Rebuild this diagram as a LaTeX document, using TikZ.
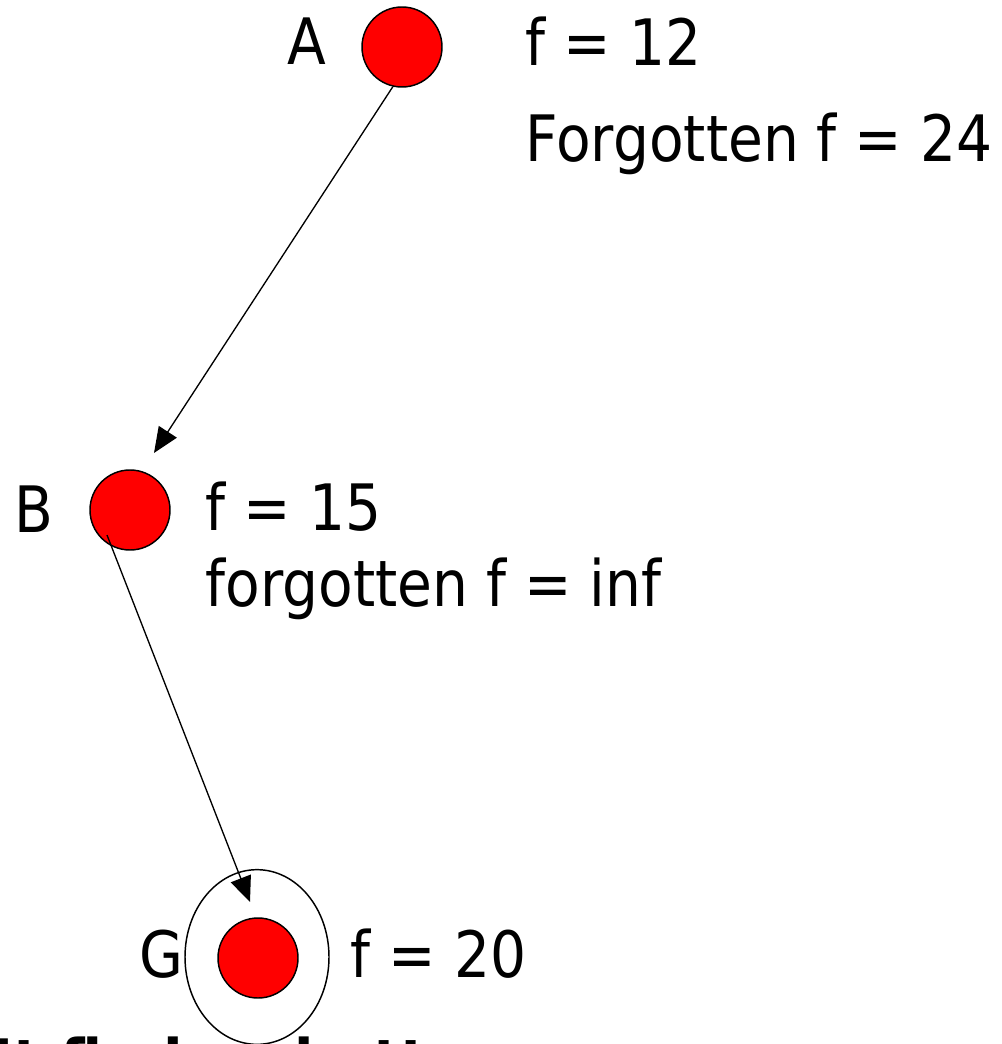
\documentclass[tikz,border=0pt]{standalone}
\usepackage{fontspec}
\newfontfamily\slidefont[FakeStretch=0.885]{DejaVu Sans}
\usetikzlibrary{calc, arrows.meta}

\begin{document}
\begin{tikzpicture}[x=0.75pt, y=-0.75pt, line width=1.1pt,
  state/.style={circle, draw=black, fill=red, minimum size=60pt, inner sep=0pt},
  lbl/.style={anchor=base west, inner sep=0pt, font=\slidefont\fontsize{48}{58}\selectfont},
  edge/.style={line width=1pt, -{Triangle[length=19pt, width=16pt]}}]
  \useasboundingbox (0,0) rectangle (1001,1044);

  % 结点
  \node[state] (A) at (402,47) {};
  \node[state] (B) at (130,510) {};
  \node[state] (G) at (258,958) {};
  \draw ($(G)+(-1,-1)$) ellipse (54pt and 65.5pt);

  % 箭头
  \coordinate (ABtip) at ($(B)+(24,-57)$);
  \draw[edge] (A.257) -- (ABtip);
  \coordinate (BGtail) at ($(B)+(-23,25)$);
  \coordinate (BGtip) at ($(G)+(-8,-56)$);
  \draw[edge] (BGtail) -- (BGtip);

  % 文字
  \node[lbl] (Aname) at (287,65) {A};
  \node[lbl] (Af) at (525,66) {f = 12};
  \node[lbl] (Aforgot) at (525,162) {Forgotten f = 24};
  \node[lbl] (Bname) at (14,532) {B};
  \node[lbl] (Bf) at (205,530) {f = 15};
  \node[lbl] (Bforgot) at (205,606) {forgotten f = inf};
  \node[lbl] (Gname) at (139,977) {G};
  \node[lbl] (Gf) at (350,977) {f = 20};
  \node[lbl, font=\slidefont\bfseries\fontsize{48}{58}\selectfont] (note) at (-8,1085) {It finds a better};
\end{tikzpicture}
\end{document}
